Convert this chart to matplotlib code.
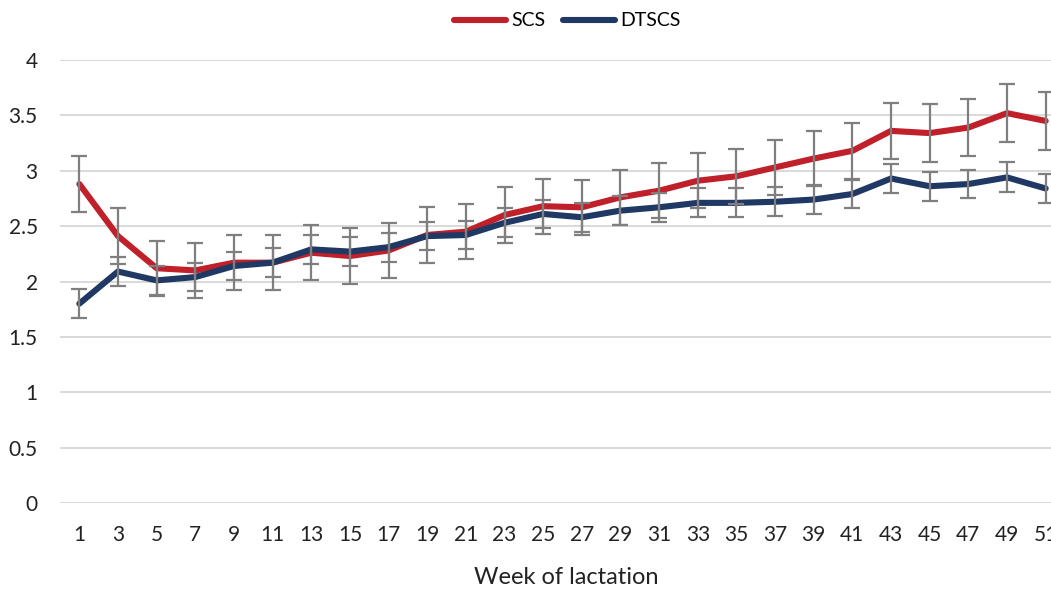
import matplotlib
matplotlib.use("Agg")
import matplotlib.pyplot as plt
from matplotlib.lines import Line2D

weeks = [1, 3, 5, 7, 9, 11, 13, 15, 17, 19, 21, 23, 25, 27, 29, 31, 33, 35, 37, 39, 41, 43, 45, 47, 49, 51]
scs = [2.88, 2.41, 2.12, 2.10, 2.17, 2.17, 2.26, 2.23, 2.28, 2.42, 2.45, 2.60, 2.68, 2.67, 2.76, 2.82, 2.91, 2.95, 3.03, 3.11, 3.18, 3.36, 3.34, 3.39, 3.52, 3.45]
dtscs = [1.80, 2.09, 2.01, 2.04, 2.14, 2.17, 2.29, 2.27, 2.31, 2.41, 2.42, 2.53, 2.61, 2.58, 2.64, 2.67, 2.71, 2.71, 2.72, 2.74, 2.79, 2.93, 2.86, 2.88, 2.94, 2.84]
scs_err = [0.25, 0.25, 0.25, 0.25, 0.25, 0.25, 0.25, 0.25, 0.25, 0.25, 0.25, 0.25, 0.25, 0.25, 0.25, 0.25, 0.25, 0.25, 0.25, 0.25, 0.25, 0.25, 0.26, 0.26, 0.26, 0.26]
dtscs_err = [0.13, 0.13, 0.13, 0.13, 0.13, 0.13, 0.13, 0.13, 0.13, 0.13, 0.13, 0.13, 0.13, 0.13, 0.13, 0.13, 0.13, 0.13, 0.13, 0.13, 0.13, 0.13, 0.13, 0.13, 0.135, 0.135]
yticks = [0, 0.5, 1, 1.5, 2, 2.5, 3, 3.5, 4]
ytick_labels = ["0", "0.5", "1", "1.5", "2", "2.5", "3", "3.5", "4"]

RED = "#C0202A"
BLUE = "#1F3864"
GREY = "#7F7F7F"

plt.rcParams['font.family'] = ['Lato', 'DejaVu Sans']

W, H = 1051, 592
fig = plt.figure(figsize=(W / 100, H / 100), dpi=100)
ax = fig.add_axes([60 / W, (H - 503) / H, 1005 / W, 443 / H])

pos = list(range(len(weeks)))
ax.plot(pos, scs, color=RED, lw=4.4, solid_capstyle='round', zorder=3)
ax.plot(pos, dtscs, color=BLUE, lw=4.4, solid_capstyle='round', zorder=4)
ax.errorbar(pos, scs, yerr=scs_err, fmt='none', ecolor=GREY, elinewidth=1.6,
            capsize=5.5, capthick=1.6, zorder=5)
ax.errorbar(pos, dtscs, yerr=dtscs_err, fmt='none', ecolor=GREY, elinewidth=1.6,
            capsize=5.5, capthick=1.6, zorder=5)

ax.set_xlim(-0.5, len(weeks) - 0.5)
ax.set_ylim(0, 4)
ax.set_yticks(yticks)
ax.set_yticklabels(ytick_labels)
ax.set_xticks(pos)
ax.set_xticklabels([str(w) for w in weeks])
ax.tick_params(axis='both', length=0, labelsize=15, colors='#222222')
ax.tick_params(axis='y', pad=16)
ax.tick_params(axis='x', pad=16)
ax.grid(axis='y', color='#D9D9D9', lw=1.4, zorder=0)
ax.set_axisbelow(True)
for s in ax.spines.values():
    s.set_visible(False)

fig.text(566 / W, 1 - 578 / H, "Week of lactation", ha='center', va='center',
         fontsize=17, color='#222222')

handles = [Line2D([], [], color=RED, lw=4.4, solid_capstyle='round'),
           Line2D([], [], color=BLUE, lw=4.4, solid_capstyle='round')]
fig.legend(handles, ["SCS", "DTSCS"], loc='center', bbox_to_anchor=(567 / W, 1 - 21 / H),
           ncol=2, frameon=False, fontsize=14, handlelength=2.7, handletextpad=0.25,
           columnspacing=0.9)

fig.savefig("out.png", dpi=100)
